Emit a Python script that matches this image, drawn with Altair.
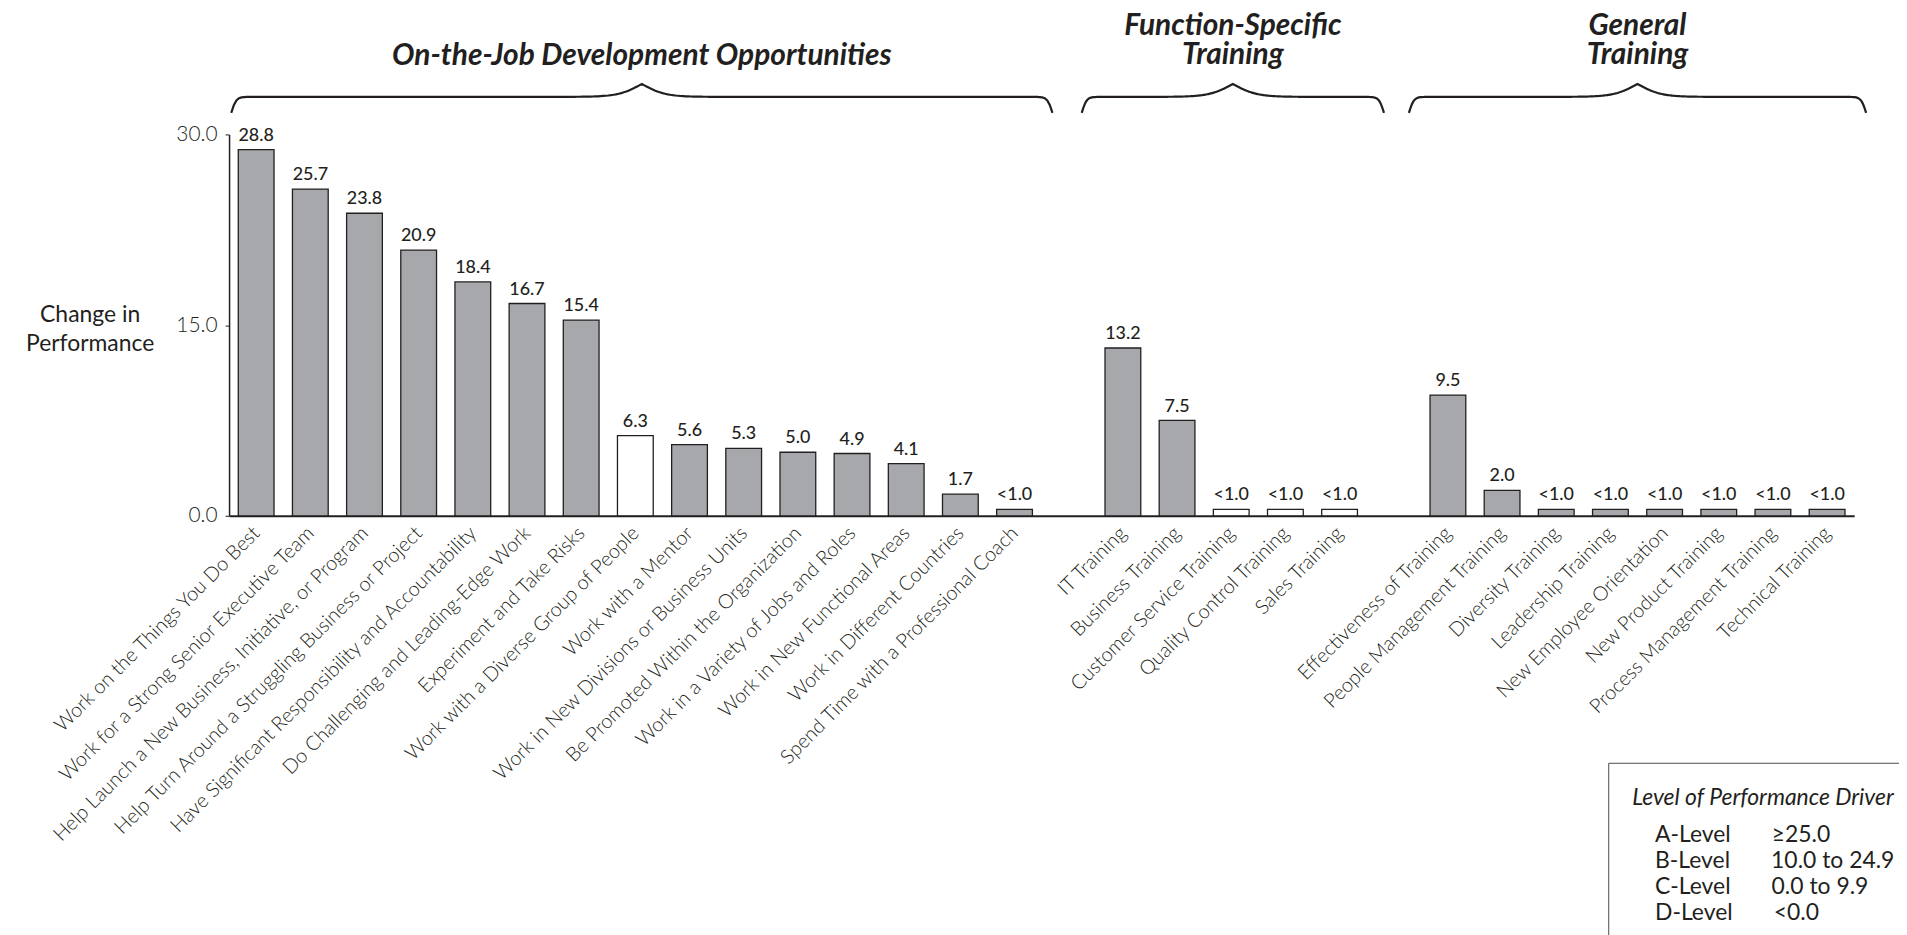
import json
import numpy as np
import pandas as pd
import altair as alt

# ---------------- data ----------------
group_titles = ["On-the-Job Development Opportunities", "Function-Specific\nTraining", "General\nTraining"]

labels_job = [
    "Work on the Things You Do Best",
    "Work for a Strong Senior Executive Team",
    "Help Launch a New Business, Initiative, or Program",
    "Help Turn Around a Struggling Business or Project",
    "Have Significant Responsibility and Accountability",
    "Do Challenging and Leading-Edge Work",
    "Experiment and Take Risks",
    "Work with a Diverse Group of People",
    "Work with a Mentor",
    "Work in New Divisions or Business Units",
    "Be Promoted Within the Organization",
    "Work in a Variety of Jobs and Roles",
    "Work in New Functional Areas",
    "Work in Different Countries",
    "Spend Time with a Professional Coach",
]
values_job = [28.8, 25.7, 23.8, 20.9, 18.4, 16.7, 15.4, 6.3, 5.6, 5.3, 5.0, 4.9, 4.1, 1.7, None]
hollow_job = [False, False, False, False, False, False, False, True, False, False, False, False, False, False, False]

labels_func = ["IT Training", "Business Training", "Customer Service Training",
               "Quality Control Training", "Sales Training"]
values_func = [13.2, 7.5, None, None, None]
hollow_func = [False, False, True, True, True]

labels_gen = ["Effectiveness of Training", "People Management Training", "Diversity Training",
              "Leadership Training", "New Employee Orientation", "New Product Training",
              "Process Management Training", "Technical Training"]
values_gen = [9.5, 2.0, None, None, None, None, None, None]
hollow_gen = [False] * 8

LESS_THAN_ONE_HEIGHT = 0.5   # drawn height of the "<1.0" stubs

level_names = ["A-Level", "B-Level", "C-Level", "D-Level"]
level_ranges = ["\u226525.0", "10.0 to 24.9", "0.0 to 9.9", "<0.0"]

# ---------------- layout constants ----------------
W, H = 1632, 383
XMIN, XMAX = -0.5, 29.5
YMAX = 30
INK = "#231f20"
GRAY = "#a7a8ab"
FONT = "Lato"

brace_pad_left = [0.46, 0.76, 0.72]
brace_pad_right = [0.70, 0.82, 0.72]
BRACE_BASE = 31.7     # y (data units) of the brace ends
TITLE_BASE = 35.5     # y (data units) of the baseline of the last title line
TITLE_LINE = 30       # px between title lines

# ---------------- build tables ----------------
rows, spans = [], []
pos = 0
for labs, vals, hol in [(labels_job, values_job, hollow_job),
                        (labels_func, values_func, hollow_func),
                        (labels_gen, values_gen, hollow_gen)]:
    start = pos
    for lab, v, h in zip(labs, vals, hol):
        rows.append(dict(pos=pos, name=lab,
                         value=v if v is not None else LESS_THAN_ONE_HEIGHT,
                         shown=f"{v:.1f}" if v is not None else "<1.0",
                         kind="hollow" if h else "solid"))
        pos += 1
    spans.append((start, pos - 1))
    pos += 1  # gap between groups
bars = pd.DataFrame(rows)

names_by_pos = [""] * int(XMAX + 0.5)
for r in rows:
    names_by_pos[r["pos"]] = r["name"]
label_expr = json.dumps(names_by_pos) + "[datum.value]"

px_x = W / (XMAX - XMIN)
px_y = H / YMAX

brace_rows, title_rows = [], []
for g, (s, e) in enumerate(spans):
    x0 = s - brace_pad_left[g]
    x1 = e + brace_pad_right[g]
    half = (x1 - x0) * px_x / 2
    u = np.linspace(0, half, 160)
    h = 32 * (1 / (1 + np.exp(-0.4 * u)) - 0.5) + 26 / (1 + np.exp(-0.085 * (u - half)))
    xl = x0 + u / px_x
    xr = x1 - u / px_x
    xs = np.concatenate([xl, xr[::-1]])
    ys = BRACE_BASE + np.concatenate([h, h[::-1]]) / px_y
    for i, (a, b) in enumerate(zip(xs, ys)):
        brace_rows.append(dict(group=g, pos=a, value=b, order=i))
    n_lines = group_titles[g].count("\n") + 1
    title_rows.append(dict(group=g, pos=(x0 + x1) / 2,
                           value=TITLE_BASE + (n_lines - 1) * TITLE_LINE / px_y,
                           title=group_titles[g]))
braces = pd.DataFrame(brace_rows)
titles = pd.DataFrame(title_rows)

levels = pd.DataFrame(dict(level=[n + "\u00a0" * 7 + r for n, r in zip(level_names, level_ranges)]))

# ---------------- chart ----------------
x_scale = alt.Scale(domain=[XMIN, XMAX], nice=False, zero=False)
y_scale = alt.Scale(domain=[0, YMAX], nice=False)

x_axis = alt.Axis(values=[r["pos"] for r in rows], labelExpr=label_expr, labelAngle=315,
                  labelAlign="right", labelBaseline="middle", labelPadding=14,
                  ticks=False, grid=False, title=None, domainColor=INK, domainWidth=2,
                  labelFont=FONT, labelFontSize=20, labelFontWeight=300, labelColor=INK,
                  labelLimit=1000, labelOverlap=False, labelFlush=False, labelBound=False)
y_axis = alt.Axis(values=[0, 15, 30], format=".1f", grid=False,
                  title=["Change in", "Performance"], titleAngle=0, titleX=-140, titleY=181,
                  titleAlign="center", titleBaseline="middle", titleFont=FONT, titleFontSize=23,
                  titleFontWeight="normal", titleColor=INK, titleLineHeight=29,
                  labelFont=FONT, labelFontSize=21, labelFontWeight=300, labelColor=INK,
                  tickSize=4, tickColor=INK, labelPadding=8, domainColor=INK, domainWidth=1.5)

bar_layer = alt.Chart(bars).transform_calculate(
    xl="datum.pos - 0.33", xr="datum.pos + 0.33"
).mark_bar(stroke=INK, strokeWidth=1.3).encode(
    x=alt.X("xl:Q", scale=x_scale, axis=x_axis),
    x2="xr:Q",
    y=alt.Y("value:Q", scale=y_scale, axis=y_axis),
    y2=alt.datum(0),
    fill=alt.Fill("kind:N", scale=alt.Scale(domain=["solid", "hollow"], range=[GRAY, "white"]), legend=None),
)

value_layer = alt.Chart(bars).mark_text(
    baseline="alphabetic", dy=-9, font=FONT, fontSize=18, fontWeight=500, color=INK
).encode(
    x=alt.X("pos:Q", scale=x_scale),
    y=alt.Y("value:Q", scale=y_scale),
    text="shown:N",
)

brace_layer = alt.Chart(braces).mark_line(color=INK, strokeWidth=2.2).encode(
    x=alt.X("pos:Q", scale=x_scale),
    y=alt.Y("value:Q", scale=y_scale),
    detail="group:N",
    order="order:Q",
)

title_layer = alt.Chart(titles).mark_text(
    baseline="alphabetic", align="center", font=FONT, fontSize=30, fontWeight="bold",
    fontStyle="italic", color=INK, lineBreak="\n", lineHeight=TITLE_LINE
).encode(
    x=alt.X("pos:Q", scale=x_scale),
    y=alt.Y("value:Q", scale=y_scale),
    text="title:N",
)

legend_layer = alt.Chart(levels).mark_point(opacity=0).encode(
    shape=alt.Shape("level:N", scale=alt.Scale(domain=list(levels["level"])),
                    legend=alt.Legend(title="Level of Performance Driver", orient="none",
                                      legendX=1385, legendY=631, strokeColor="#4d4d4d",
                                      padding=24, titleFont=FONT, titleFontStyle="italic",
                                      titleFontWeight="normal", titleFontSize=23, titleColor=INK,
                                      titleLimit=500, titlePadding=14, labelFont=FONT,
                                      labelFontSize=23, labelColor=INK, symbolOpacity=0,
                                      symbolSize=1, symbolStrokeWidth=0, labelOffset=0,
                                      rowPadding=2, labelLimit=400)),
)

chart = alt.layer(bar_layer, value_layer, brace_layer, title_layer, legend_layer).properties(
    width=W, height=H,
    autosize=alt.AutoSizeParams(type="none"),
    padding={"left": 222, "top": 125, "right": 45, "bottom": 419},
).configure(background="white").configure_view(stroke=None)

chart.save("out.html", embed_options={"renderer": "svg", "actions": False})
